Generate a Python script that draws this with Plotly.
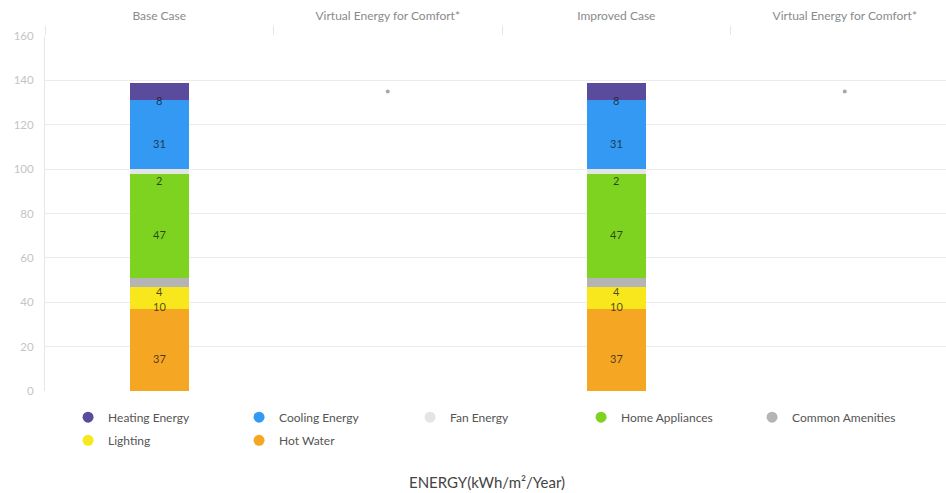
import plotly.graph_objects as go

# Column headers along the top axis
columns = ["Base Case", "Virtual Energy for Comfort*", "Improved Case", "Virtual Energy for Comfort*"]

# Energy end uses, stacked bottom to top (kWh/m²/year)
end_uses = ["Hot Water", "Lighting", "Common Amenities", "Home Appliances",
            "Fan Energy", "Cooling Energy", "Heating Energy"]
base_case = [37, 10, 4, 47, 2, 31, 8]
improved_case = [37, 10, 4, 47, 2, 31, 8]
virtual_comfort = [135, 135]

colors = {
    "Hot Water": "#f5a623",
    "Lighting": "#f8e71c",
    "Common Amenities": "#b4b4b4",
    "Home Appliances": "#7ed321",
    "Fan Energy": "#e4e4e4",
    "Cooling Energy": "#3399f3",
    "Heating Energy": "#5b4b9c",
}

case_cols = [columns.index("Base Case"), columns.index("Improved Case")]
virtual_cols = [i for i, c in enumerate(columns) if c.startswith("Virtual")]
case_values = [base_case, improved_case]

fig = go.Figure()

for k, name in enumerate(end_uses):
    fig.add_trace(go.Bar(
        x=case_cols,
        y=[vals[k] for vals in case_values],
        name=name,
        legendgroup=name,
        showlegend=False,
        width=0.26,
        marker=dict(color=colors[name], line=dict(width=0)),
        hoverinfo="y+name",
    ))

# Circular legend entries in two rows (top of stack first)
legend_order = list(reversed(end_uses))
for i, name in enumerate(legend_order):
    fig.add_trace(go.Scatter(
        x=[None], y=[None], mode="markers", name=name, legendgroup=name,
        legend="legend" if i < 5 else "legend2",
        marker=dict(symbol="circle", size=11, color=colors[name]),
    ))

# Virtual energy for comfort points
fig.add_trace(go.Scatter(
    x=virtual_cols, y=virtual_comfort, mode="markers", showlegend=False,
    marker=dict(size=4, color="#a8a8a8"), hoverinfo="y",
))

# Segment value labels
for col, vals in zip(case_cols, case_values):
    base = 0
    for v in vals:
        fig.add_annotation(
            x=col, y=base + v / 2, text=str(v), showarrow=False, yshift=-9,
            font=dict(size=11, color="rgba(20,20,20,0.75)", family="Lato"),
        )
        base += v

fig.add_annotation(
    x=0.4906, y=-0.256, xref="paper", yref="paper", yanchor="middle",
    text="ENERGY(kWh/m²/Year)",
    showarrow=False, font=dict(size=15, color="#444444", family="Lato"),
)

legend_common = dict(
    orientation="h", xanchor="left", yanchor="top",
    entrywidth=126, entrywidthmode="pixels", itemwidth=30,
    font=dict(size=12, color="#555555"),
    itemclick=False, itemdoubleclick=False,
)

fig.update_layout(
    width=946, height=493,
    margin=dict(l=45, r=0, t=36, b=102),
    barmode="stack",
    plot_bgcolor="white", paper_bgcolor="white",
    font=dict(family="Lato", color="#666666"),
    bargap=0,
    legend=dict(x=0.0256, y=-0.033, **legend_common),
    legend2=dict(x=0.0256, y=-0.098, **legend_common),
    xaxis=dict(
        side="top", range=[-0.5, 3.443],
        tickmode="array", tickvals=list(range(len(columns))), ticktext=columns,
        ticks="outside", ticklen=10, tickcolor="rgba(0,0,0,0)",
        tickfont=dict(size=12, color="#8a8a8a"),
        showgrid=False, zeroline=False, showline=False,
        minor=dict(tickmode="array", tickvals=[i - 0.5 for i in range(len(columns) + 1)],
                   ticks="outside", ticklen=9, tickcolor="#e6e6e6", showgrid=False),
    ),
    yaxis=dict(
        range=[0, 160], dtick=20,
        tickfont=dict(size=11.5, color="#c4c4c4"),
        ticks="outside", ticklen=8, tickcolor="rgba(0,0,0,0)",
        showgrid=True, gridcolor="#ebebeb", gridwidth=1,
        showline=True, linecolor="#e6e6e6", zeroline=False,
    ),
)

fig.write_html("out.html")
